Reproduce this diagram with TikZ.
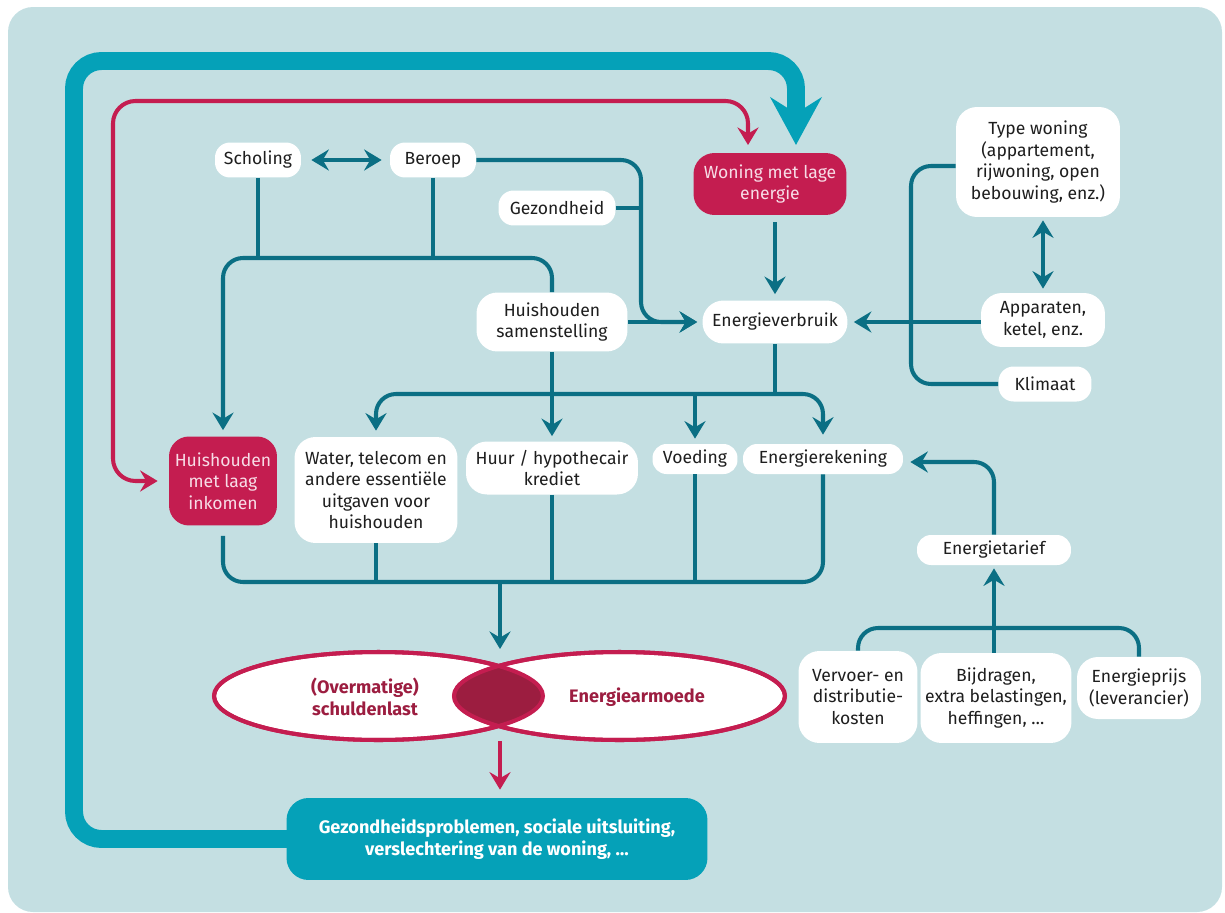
\documentclass[tikz,border=0pt]{standalone}
\usepackage{fontspec}
\setmainfont{Fira Sans}
\usetikzlibrary{arrows.meta,shapes.geometric}

\begin{document}
\begin{tikzpicture}[x=0.02cm,y=-0.02cm,
    box/.style={fill=white,rounded corners=#1,align=center,inner sep=0pt,
        text=Ink,font=\fontsize{10}{12.3}\selectfont},
    box/.default=0.42cm,
    rbox/.style={box=#1,fill=Crimson,text=Blush},
    rbox/.default=0.42cm,
    link/.style={draw=Petrol,line width=2.3pt,rounded corners=0.4cm},
    arr/.style={link,-{Stealth[length=10pt,width=12pt,inset=3.5pt]}},
    redlink/.style={draw=Crimson,line width=2.3pt,rounded corners=0.45cm},
    bigloop/.style={draw=Teal,line width=10.2pt,rounded corners=0.55cm,
        -{Stealth[length=27pt,width=29pt,inset=9pt]}},
    ovaltext/.style={align=center,inner sep=0pt,text=Wine,
        font=\fontsize{10.3}{12.3}\selectfont\bfseries}]
    \definecolor{Mist}{HTML}{C4DFE2}
    \definecolor{Petrol}{HTML}{0B6F84}
    \definecolor{Teal}{HTML}{05A1B8}
    \definecolor{Crimson}{HTML}{C41D50}
    \definecolor{Wine}{HTML}{9C1D40}
    \definecolor{Blush}{HTML}{F7DCE6}
    \definecolor{Ink}{HTML}{1E1E1E}

    \useasboundingbox (0,0) rectangle (1225,913);
    \fill[Mist,rounded corners=0.5cm] (8,7) rectangle (1222,912);

    % vakken
    \node[box=0.3cm,minimum width=1.72cm,minimum height=0.7cm] (scholing) at (258,160) {Scholing};
    \node[box=0.3cm,minimum width=1.72cm,minimum height=0.7cm] (beroep) at (433,160) {Beroep};
    \node[box=0.3cm,minimum width=2.34cm,minimum height=0.7cm] (gezondheid) at (557,208) {Gezondheid};
    \node[rbox,minimum width=3.06cm,minimum height=1.24cm] (woning) at (770,184) {Woning met lage\\energie};
    \node[box,minimum width=3.28cm,minimum height=2.2cm] (typewoning) at (1038,162)
        {Type woning\\(appartement,\\rijwoning, open\\bebouwing, enz.)};
    \node[box,minimum width=2.48cm,minimum height=1.08cm] (apparaten) at (1043,320) {Apparaten,\\ketel, enz.};
    \node[box=0.3cm,minimum width=1.86cm,minimum height=0.7cm] (klimaat) at (1045,384) {Klimaat};
    \node[box,minimum width=2.9cm,minimum height=0.86cm] (verbruik) at (775,322) {Energieverbruik};
    \node[box,minimum width=3.02cm,minimum height=1.18cm] (samenstelling) at (552,322) {Huishouden\\samenstelling};
    \node[rbox=0.4cm,minimum width=2.16cm,minimum height=1.78cm] (inkomen) at (223,481) {Huishouden\\met laag\\inkomen};
    \node[box,minimum width=3.26cm,minimum height=2.12cm] (water) at (376,490)
        {Water, telecom en\\andere essentiële\\uitgaven voor\\huishouden};
    \node[box,minimum width=3.44cm,minimum height=1.06cm] (huur) at (552,468) {Huur / hypothecair\\krediet};
    \node[box=0.28cm,minimum width=1.7cm,minimum height=0.6cm] (voeding) at (695,459) {Voeding};
    \node[box=0.28cm,minimum width=3.2cm,minimum height=0.6cm] (rekening) at (823,459) {Energierekening};
    \node[box=0.28cm,minimum width=3.08cm,minimum height=0.6cm] (tarief) at (994,550) {Energietarief};
    \node[box,minimum width=2.38cm,minimum height=1.84cm] (vervoer) at (858,697) {Vervoer- en\\distributie-\\kosten};
    \node[box,minimum width=3.02cm,minimum height=1.8cm] (bijdragen) at (996,698)
        {Bijdragen,\\extra belastingen,\\heffingen, …};
    \node[box,minimum width=2.48cm,minimum height=1.24cm] (prijs) at (1139,688) {Energieprijs\\(leverancier)};

    % hulppunten
    \coordinate (top) at (0,258);
    \coordinate (gzx) at (641,322);
    \coordinate (tk) at (911,270);
    \coordinate (mid) at (0,394);
    \coordinate (low) at (500,582);
    \coordinate (tak) at (0,628);
    \coordinate (lus) at (74,61);
    \coordinate (lw) at (796,153);
    \coordinate (rood) at (113,101);
    \coordinate (rw) at (748,153);
    \coordinate (kruis) at (500,666);
    \coordinate (kruisonder) at (500,726);

    % terugkoppeling
    \node[box=0.44cm,fill=Teal,text=white,font=\fontsize{10.3}{12.3}\selectfont\bfseries,
        minimum width=8.42cm,minimum height=1.64cm] (gevolgen) at (497,839)
        {Gezondheidsproblemen, sociale uitsluiting,\\verslechtering van de woning, …};
    \draw[bigloop,shorten >=0.16cm] ([xshift=0.2cm]gevolgen.west) -| (lus) -| (lw);
    \draw[redlink,{Stealth[length=10pt,width=12pt,inset=3.5pt]}-{Stealth[length=10pt,width=12pt,inset=3.5pt]},
        shorten <=0.16cm,shorten >=0.22cm] (rw) |- (rood) |- (inkomen.west);

    % verbindingen boven
    \draw[link,{Stealth[length=10pt,width=12pt,inset=3.5pt]}-{Stealth[length=10pt,width=12pt,inset=3.5pt]},
        shorten <=0.2cm,shorten >=0.16cm] (scholing) -- (beroep);
    \draw[link] (scholing.south) -- (scholing.south |- top);
    \draw[link] (beroep.south) -- (beroep.south |- top);
    \draw[arr,shorten >=0.12cm] (samenstelling.north) |- (top -| inkomen) -- (inkomen.north);
    \draw[arr,shorten >=0.1cm] (beroep.east) -| (gzx) -- (verbruik.west);
    \draw[link] (gezondheid.east) -- (gezondheid.east -| gzx);
    \draw[arr,shorten >=0.1cm] (samenstelling.east) -- (verbruik.west);
    \draw[arr,shorten <=0.14cm,shorten >=0.12cm] (verbruik.north |- woning.south) -- (verbruik.north);
    \draw[arr,shorten >=0.12cm] (apparaten.west |- verbruik.east) -- (verbruik.east);
    \draw[link,{Stealth[length=10pt,width=12pt,inset=3.5pt]}-{Stealth[length=10pt,width=12pt,inset=3.5pt]},
        shorten <=0.06cm,shorten >=0.08cm] (typewoning.south -| apparaten) -- (apparaten.north);
    \draw[link] ([yshift=-0.08cm]typewoning.west) -| (tk) |- (klimaat.west);

    % verbindingen midden
    \draw[link] (verbruik.south) -- (verbruik.south |- mid);
    \draw[arr,shorten >=0.12cm] (verbruik.south |- mid) -| (water.north);
    \draw[arr,shorten >=0.18cm] (verbruik.south |- mid) -| (rekening.north);
    \draw[arr,shorten >=0.1cm] (voeding |- mid) -- (voeding.north);
    \draw[arr,shorten >=0.1cm] (samenstelling.south) -- (huur.north);

    % verbindingen onder
    \draw[link,shorten <=0.2cm] (inkomen.south) |- (low -| rekening) -- (rekening.south);
    \draw[link] (water.south) -- (water.south |- low);
    \draw[link] (huur.south) -- (huur.south |- low);
    \draw[link] (voeding.south) -- (voeding.south |- low);
    \draw[arr,shorten >=0.34cm] (low) -- (kruis);

    \draw[arr,shorten >=0.14cm] (tarief.north) |- ([yshift=-0.06cm]rekening.east);
    \draw[link] (vervoer.north) |- (tak -| prijs) -- (prijs.north);
    \draw[arr,shorten >=0.06cm] (bijdragen.north -| tarief) -- (tarief.south);

    % ovalen
    \node[ellipse,draw=Crimson,line width=2.3pt,fill=white,inner sep=0pt,
        minimum width=6.58cm,minimum height=1.76cm] (schuld) at (378.5,696) {};
    \node[ellipse,draw=Crimson,line width=2.3pt,fill=white,inner sep=0pt,
        minimum width=6.62cm,minimum height=1.76cm] (armoede) at (619.5,696) {};
    \begin{scope}
        \clip (schuld.center) ellipse (3.29cm and 0.88cm);
        \fill[Wine] (armoede.center) ellipse (3.31cm and 0.88cm);
    \end{scope}
    \draw[Crimson,line width=2.3pt] (schuld.center) ellipse (3.29cm and 0.88cm)
        (armoede.center) ellipse (3.31cm and 0.88cm);
    \node[ovaltext] (schuldtekst) at (365,697) {(Overmatige)\\schuldenlast};
    \node[ovaltext] (armoedetekst) at (637,697) {Energiearmoede};
    \draw[draw=Crimson,line width=2.3pt,-{Stealth[length=10pt,width=12pt,inset=3.5pt]},
        shorten <=0.3cm,shorten >=0.16cm] (kruisonder) -- (kruisonder |- gevolgen.north);
\end{tikzpicture}
\end{document}
